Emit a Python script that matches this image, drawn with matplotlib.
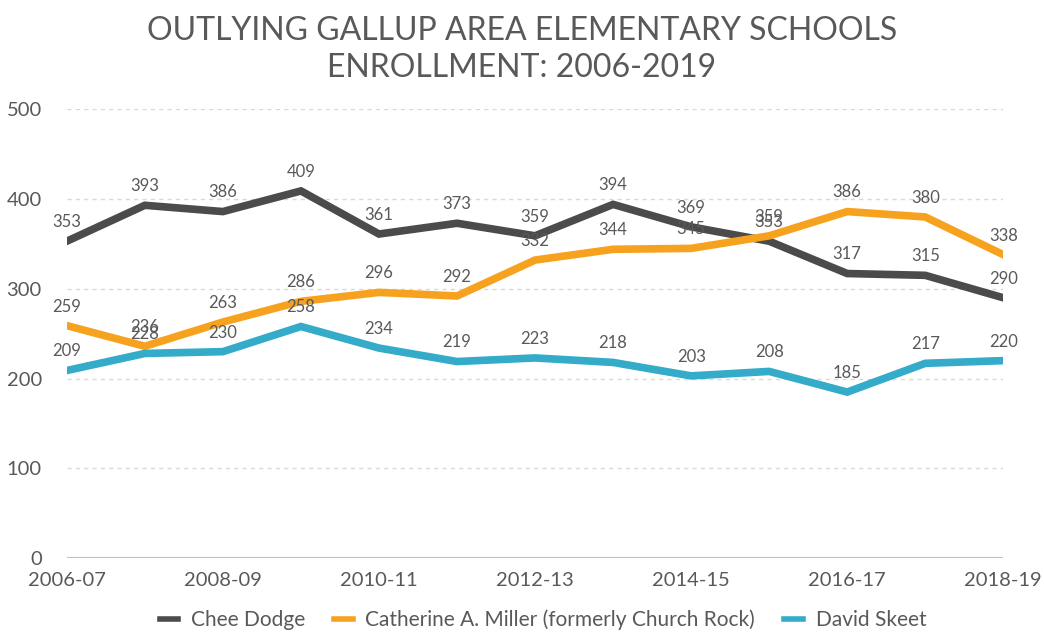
import matplotlib
matplotlib.use("Agg")
import matplotlib.pyplot as plt

plt.rcParams['font.family'] = ['Lato', 'DejaVu Sans']

years = ['2006-07', '2007-08', '2008-09', '2009-10', '2010-11', '2011-12', '2012-13',
         '2013-14', '2014-15', '2015-16', '2016-17', '2017-18', '2018-19']
chee_dodge = [353, 393, 386, 409, 361, 373, 359, 394, 369, 353, 317, 315, 290]
catherine_miller = [259, 236, 263, 286, 296, 292, 332, 344, 345, 359, 386, 380, 338]
david_skeet = [209, 228, 230, 258, 234, 219, 223, 218, 203, 208, 185, 217, 220]

series = [
    ('Chee Dodge', chee_dodge, '#4b4b4b'),
    ('Catherine A. Miller (formerly Church Rock)', catherine_miller, '#f7a21f'),
    ('David Skeet', david_skeet, '#33abc9'),
]

txt = '#595959'
fig = plt.figure(figsize=(10.44, 6.35), dpi=100)
ax = fig.add_axes([0.064, 0.121, 0.897, 0.707])

x = list(range(len(years)))
for name, vals, col in series:
    ax.plot(x, vals, color=col, lw=5.5, label=name, solid_joinstyle='miter', zorder=3)
    for xi, v in zip(x, vals):
        ax.annotate(str(v), (xi, v), xytext=(0, 8), textcoords='offset points',
                    ha='center', va='bottom', fontsize=12, color=txt, zorder=4)

ax.set_xlim(0, 12)
ax.set_ylim(0, 500)
ax.set_yticks([0, 100, 200, 300, 400, 500])
ax.set_xticks(x[::2])
ax.set_xticklabels(years[::2])
ax.tick_params(axis='both', length=0, labelsize=14.5, labelcolor=txt)
ax.tick_params(axis='x', pad=10)
ax.tick_params(axis='y', pad=18)

for s in ax.spines.values():
    s.set_visible(False)
ax.grid(axis='y', color='#d9d9d9', linestyle=(0, (3, 3)), lw=1)
ax.axhline(0, color='#bfbfbf', lw=1.5, zorder=2)

fig.text(0.5, 0.975, 'OUTLYING GALLUP AREA ELEMENTARY SCHOOLS\nENROLLMENT: 2006-2019',
         ha='center', va='top', fontsize=23, color=txt, linespacing=1.3)

leg = fig.legend(loc='lower center', bbox_to_anchor=(0.52, -0.022), ncol=3, frameon=False,
                 fontsize=15, handlelength=0.9, handletextpad=0.6, columnspacing=1.4)
for t in leg.get_texts():
    t.set_color(txt)
for h in leg.get_lines():
    h.set_linewidth(4)

fig.savefig('out.png', dpi=100)
